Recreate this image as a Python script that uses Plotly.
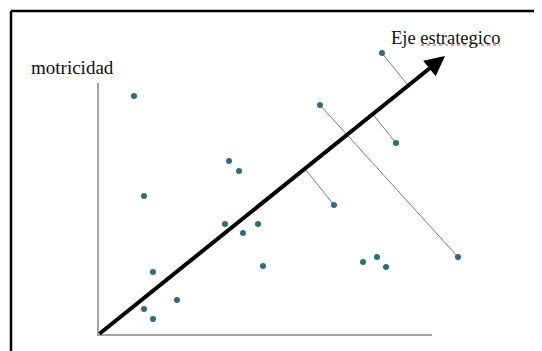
import numpy as np
import plotly.graph_objects as go

# Data (axis units: origin at the corner of the axes)
x_vals = [36, 131, 141, 46, 127, 145, 160, 55, 165, 79, 46, 55, 284, 222, 298, 236, 265, 279, 288, 360]
y_vals = [239, 174, 164, 139, 111, 102, 111, 63, 69, 35, 26, 16, 282, 230, 192, 130, 73, 78, 68, 78]
axis_x_len = 334
axis_y_len = 252
arrow_tip = (347, 279)
projected_idx = [12, 14, 15]
linked_pair = (13, 19)
y_label = "motricidad"
arrow_label = "Eje estrategico"

fig = go.Figure()

# Axes lines
fig.add_trace(go.Scatter(x=[0, 0, axis_x_len], y=[axis_y_len, 0, 0], mode="lines",
                         line=dict(color="#a3a3a3", width=2), hoverinfo="skip"))

# Projection lines onto strategic axis
d = np.array(arrow_tip, dtype=float)
for i in projected_idx:
    p = np.array([x_vals[i], y_vals[i]], dtype=float)
    t = p.dot(d) / d.dot(d)
    foot = t * d
    fig.add_trace(go.Scatter(x=[p[0], foot[0]], y=[p[1], foot[1]], mode="lines",
                             line=dict(color="#7d7d7d", width=1), hoverinfo="skip"))
a, b = linked_pair
fig.add_trace(go.Scatter(x=[x_vals[a], x_vals[b]], y=[y_vals[a], y_vals[b]], mode="lines",
                         line=dict(color="#7d7d7d", width=1), hoverinfo="skip"))

# Points
fig.add_trace(go.Scatter(x=x_vals, y=y_vals, mode="markers",
                         marker=dict(color="#2f6b78", size=6)))

# Strategic axis arrow
fig.add_annotation(x=arrow_tip[0], y=arrow_tip[1], ax=0, ay=0, xref="x", yref="y",
                   axref="x", ayref="y", text="", showarrow=True, arrowhead=2,
                   arrowsize=1, arrowwidth=4, arrowcolor="black", standoff=0)

fig.add_annotation(x=arrow_tip[0] + 0, y=297, xref="x", yref="y", text=arrow_label,
                   showarrow=False, font=dict(family="Liberation Serif", size=18.5, color="#111"))
fig.add_annotation(x=-26, y=268, xref="x", yref="y", text=y_label,
                   showarrow=False, font=dict(family="Liberation Serif", size=19, color="#111"))

# spell-check style underline
fig.add_shape(type="line", x0=323, x1=402, y0=290, y1=290, xref="x", yref="y",
              line=dict(color="#d04040", width=1, dash="dot"))

# Frame (page has an 8px body margin)
fx = 3 / 542
fy = 1 - 3 / 351
fig.add_shape(type="line", xref="paper", yref="paper", x0=fx, x1=fx, y0=0, y1=fy,
              line=dict(color="black", width=2.5))
fig.add_shape(type="line", xref="paper", yref="paper", x0=fx, x1=1, y0=fy, y1=fy,
              line=dict(color="black", width=2.5))

fig.update_layout(width=542, height=351, margin=dict(l=0, r=0, t=0, b=0),
                  paper_bgcolor="white", plot_bgcolor="white", showlegend=False,
                  xaxis=dict(range=[-90, 452], visible=False, fixedrange=True),
                  yaxis=dict(range=[-24, 327], visible=False, fixedrange=True))

fig.write_html("out.html")
